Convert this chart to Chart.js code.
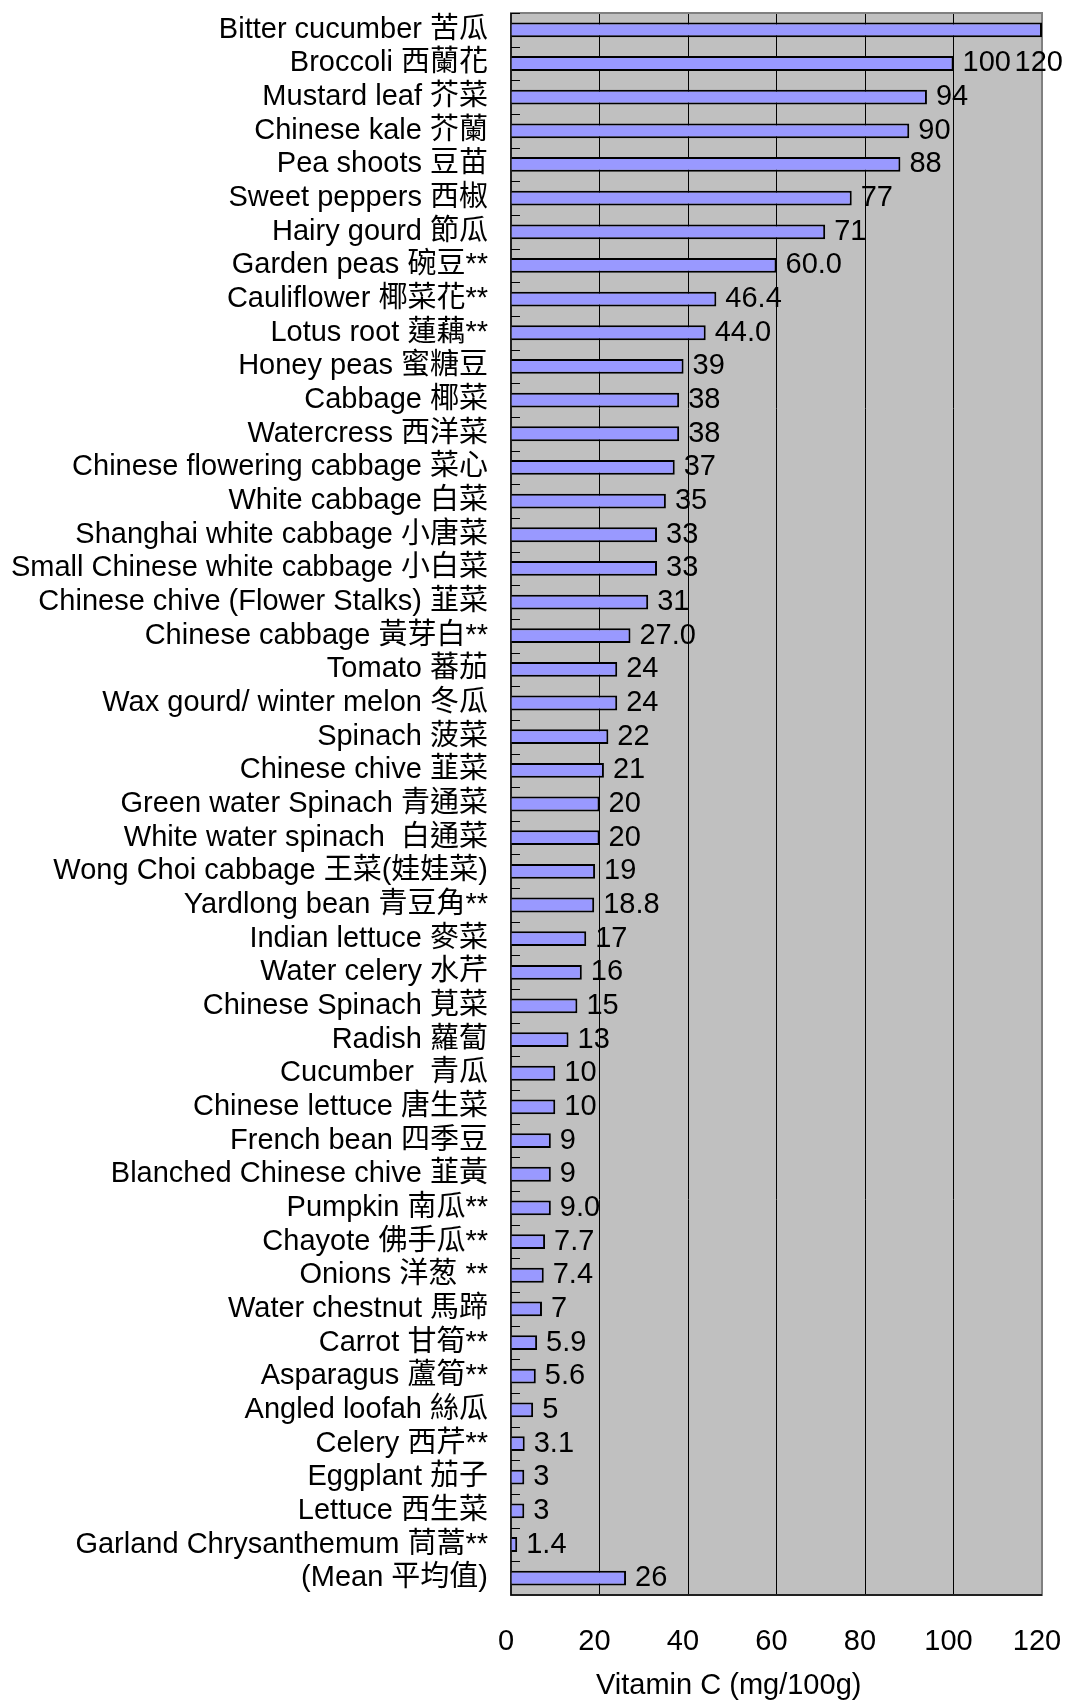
<!DOCTYPE html>
<html>
<head>
<meta charset="utf-8">
<script src="https://cdn.jsdelivr.net/npm/chart.js@4.4.0/dist/chart.umd.min.js"></script>
<style>
  html, body { margin: 0; padding: 0; background: #fff; }
</style>
</head>
<body>
<canvas id="chartVitC" width="1071" height="1701"></canvas>
<script>
// Vitamin C content of common vegetables (mg per 100 g)
const vegetables = [
    'Bitter cucumber 苦瓜', 'Broccoli 西蘭花', 'Mustard leaf 芥菜', 'Chinese kale 芥蘭',
    'Pea shoots 豆苗', 'Sweet peppers 西椒', 'Hairy gourd 節瓜', 'Garden peas 碗豆**',
    'Cauliflower 椰菜花**', 'Lotus root 蓮藕**', 'Honey peas 蜜糖豆', 'Cabbage 椰菜',
    'Watercress 西洋菜', 'Chinese flowering cabbage 菜心', 'White cabbage 白菜',
    'Shanghai white cabbage 小唐菜', 'Small Chinese white cabbage 小白菜',
    'Chinese chive (Flower Stalks) 韮菜', 'Chinese cabbage 黃芽白**', 'Tomato 蕃茄',
    'Wax gourd/ winter melon 冬瓜', 'Spinach 菠菜', 'Chinese chive 韮菜',
    'Green water Spinach 青通菜', 'White water spinach  白通菜', 'Wong Choi cabbage 王菜(娃娃菜)',
    'Yardlong bean 青豆角**', 'Indian lettuce 麥菜', 'Water celery 水芹', 'Chinese Spinach 莧菜',
    'Radish 蘿蔔', 'Cucumber  青瓜', 'Chinese lettuce 唐生菜', 'French bean 四季豆',
    'Blanched Chinese chive 韮黃', 'Pumpkin 南瓜**', 'Chayote 佛手瓜**', 'Onions 洋葱 **',
    'Water chestnut 馬蹄', 'Carrot 甘筍**', 'Asparagus 蘆筍**', 'Angled loofah 絲瓜',
    'Celery 西芹**', 'Eggplant 茄子', 'Lettuce 西生菜', 'Garland Chrysanthemum 茼蒿**',
    '(Mean 平均值)'
];

// printed as shown next to each bar; the bar lengths come from these
const vitaminLabels = [
    '120', '100', '94', '90', '88', '77', '71', '60.0', '46.4', '44.0', '39', '38', '38',
    '37', '35', '33', '33', '31', '27.0', '24', '24', '22', '21', '20', '20', '19', '18.8',
    '17', '16', '15', '13', '10', '10', '9', '9', '9.0', '7.7', '7.4', '7', '5.9', '5.6',
    '5', '3.1', '3', '3', '1.4', '26'
];
const vitaminValues = vitaminLabels.map(Number);

const axisMin = 0;
const axisMax = 120;
const axisStep = 20;
const axisTitle = 'Vitamin C (mg/100g)';

const FONT = '"Liberation Sans", Arial, "Noto Sans CJK TC", sans-serif';
const FONT_SIZE = 29;

Chart.defaults.font.family = FONT;
Chart.defaults.color = '#000';

// grey plot area, Excel style frame and the little inside ticks on the left
const plotFrame = {
    id: 'plotFrame',
    beforeDraw(chart) {
        const { ctx, chartArea: a } = chart;
        ctx.save();
        ctx.fillStyle = '#c0c0c0';
        ctx.fillRect(a.left, a.top, a.right - a.left, a.bottom - a.top);
        ctx.restore();
    },
    beforeDatasetsDraw(chart) {
        const { ctx, chartArea: a } = chart;
        const y = chart.scales.y;
        ctx.save();
        ctx.strokeStyle = '#808080';
        ctx.lineWidth = 2;
        ctx.strokeRect(a.left, a.top, a.right - a.left, a.bottom - a.top);

        ctx.strokeStyle = '#000';
        ctx.lineWidth = 1.5;
        ctx.beginPath();
        ctx.moveTo(a.left, a.top);
        ctx.lineTo(a.left, a.bottom);
        ctx.lineTo(a.right, a.bottom);
        ctx.stroke();

        const half = (y.getPixelForValue(1) - y.getPixelForValue(0)) / 2;
        ctx.lineWidth = 1;
        ctx.beginPath();
        for (let i = 0; i < vegetables.length; i++) {
            const py = Math.round(y.getPixelForValue(i) - half) + 0.5;
            ctx.moveTo(a.left, py);
            ctx.lineTo(a.left + 9, py);
        }
        ctx.stroke();
        ctx.restore();
    }
};

const valueLabels = {
    id: 'valueLabels',
    afterDatasetsDraw(chart) {
        const { ctx } = chart;
        const bars = chart.getDatasetMeta(0).data;
        ctx.save();
        ctx.font = FONT_SIZE + 'px ' + FONT;
        ctx.fillStyle = '#000';
        ctx.textBaseline = 'middle';
        ctx.textAlign = 'left';
        bars.forEach((bar, i) => {
            const text = vitaminLabels[i];
            const w = ctx.measureText(text).width;
            let x = bar.x + 9;
            let y = bar.y;
            if (x + w > chart.width) {
                // no room past the frame, drop it one row down at the edge
                x = chart.width - w - 8;
                if (bars[i + 1]) y = bars[i + 1].y;
            }
            ctx.fillText(text, x, y);
        });
        ctx.restore();
    }
};

const axisCaption = {
    id: 'axisCaption',
    afterDraw(chart) {
        const { ctx, chartArea: a } = chart;
        ctx.save();
        ctx.font = FONT_SIZE + 'px ' + FONT;
        ctx.fillStyle = '#000';
        ctx.textAlign = 'center';
        ctx.textBaseline = 'middle';
        ctx.fillText(axisTitle, a.left + (a.right - a.left) * 0.41, chart.height - 15);
        ctx.restore();
    }
};

new Chart(document.getElementById('chartVitC'), {
    type: 'bar',
    data: {
        labels: vegetables,
        datasets: [{
            data: vitaminValues,
            backgroundColor: '#9999ff',
            borderColor: '#000',
            borderWidth: 2,
            barPercentage: 0.44,
            categoryPercentage: 1.0
        }]
    },
    options: {
        indexAxis: 'y',
        responsive: false,
        animation: false,
        layout: { padding: { top: 13, right: 29, left: 0, bottom: 0 } },
        plugins: {
            legend: { display: false },
            tooltip: { enabled: false }
        },
        scales: {
            x: {
                min: axisMin,
                max: axisMax,
                ticks: {
                    stepSize: axisStep,
                    font: { size: FONT_SIZE },
                    color: '#000',
                    padding: 30,
                    labelOffset: -5
                },
                grid: {
                    drawTicks: false,
                    lineWidth: 1,
                    color: ctx => (ctx.tick && ctx.tick.value > axisMin && ctx.tick.value < axisMax) ? '#000' : 'rgba(0,0,0,0)'
                },
                border: { display: false },
                afterFit: s => {
                    s.height = 106;
                    s.paddingLeft = 0;
                    s.paddingRight = 0;
                }
            },
            y: {
                ticks: {
                    font: { size: FONT_SIZE },
                    color: '#000',
                    padding: 23,
                    autoSkip: false
                },
                grid: { display: false, drawTicks: false },
                border: { display: false },
                afterFit: s => {
                    s.width = 511;
                    s.paddingTop = 0;
                    s.paddingBottom = 0;
                }
            }
        }
    },
    plugins: [plotFrame, valueLabels, axisCaption]
});
</script>
</body>
</html>
